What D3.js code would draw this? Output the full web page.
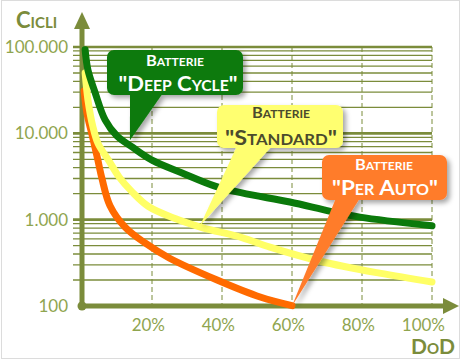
<!DOCTYPE html>
<html><head><meta charset="utf-8">
<script src="https://cdn.jsdelivr.net/npm/d3@7"></script>
<style>body{margin:0;background:#fff}svg{display:block}</style>
</head><body>
<script>
// ---- data ----
const xTicks = [20, 40, 60, 80, 100];
const xTickLabels = ["20%", "40%", "60%", "80%", "100%"];
const yTicks = [100, 1000, 10000, 100000];
const yTickLabels = ["100", "1.000", "10.000", "100.000"];
const deepDod    = [0.9, 1.7, 3.7, 6.6, 10, 14.3, 20, 28.6, 38, 45.7, 59.4, 71, 79.4, 100];
const deepCycles = [93000, 54000, 30000, 14300, 9300, 6960, 4900, 3480, 2450, 2040, 1600, 1250, 1070, 850];
const stdDod     = [0.9, 1.7, 3.1, 4.6, 7.7, 10.6, 14.3, 19, 26.6, 34.3, 45.7, 53.7, 68, 85, 100];
const stdCycles  = [50000, 24400, 12000, 7600, 4800, 3120, 2100, 1420, 1030, 810, 620, 480, 330, 240, 190];
const autoDod    = [0.6, 1.4, 2.9, 4.4, 5.7, 8, 12.3, 18, 24.9, 38.6, 50.9, 60];
const autoCycles = [31000, 17300, 9500, 5200, 3000, 1450, 820, 537, 360, 200, 127, 101];
const seriesNames = ["Batterie", "Batterie", "Batterie"];
const seriesTitles = ['"Deep Cycle"', '"Standard"', '"Per Auto"'];

const W = 461, H = 359;
const olive = "#7b8c3b", tickCol = "#8fa54f";
const x = d3.scaleLinear().domain([0, 100]).range([82, 432]);
const y = d3.scaleLog().domain([100, 100000]).range([306, 47]);

const svg = d3.select("body").append("svg").attr("width", W).attr("height", H);
const defs = svg.append("defs");
const f = defs.append("filter").attr("id", "sh").attr("x", "-20%").attr("y", "-20%").attr("width", "150%").attr("height", "150%");
f.append("feDropShadow").attr("dx", 3).attr("dy", 3).attr("stdDeviation", 2.5).attr("flood-color", "#000").attr("flood-opacity", 0.35);

svg.append("rect").attr("x", 1.5).attr("y", 0.5).attr("width", W - 3).attr("height", H - 1)
  .attr("fill", "none").attr("stroke", "#dcdcdc");

// horizontal log grid
const minor = [];
for (let d = 100; d < 100000; d *= 10) for (let k = 2; k <= 9; k++) minor.push(d * k);
svg.append("g").selectAll("line").data(minor).join("line")
  .attr("x1", 73).attr("x2", x(100)).attr("y1", d => y(d)).attr("y2", d => y(d))
  .attr("stroke", olive).attr("stroke-width", 1.3);
svg.append("g").selectAll("line").data(yTicks.slice(1)).join("line")
  .attr("x1", 73).attr("x2", x(100)).attr("y1", d => y(d)).attr("y2", d => y(d))
  .attr("stroke", olive).attr("stroke-width", 2.6);
// vertical dashed grid
svg.append("g").selectAll("line").data(xTicks).join("line")
  .attr("x1", d => x(d)).attr("x2", d => x(d)).attr("y1", y(100000)).attr("y2", y(100))
  .attr("stroke", olive).attr("stroke-width", 1).attr("stroke-dasharray", "5,3");

// axes
svg.append("line").attr("x1", x(0)).attr("x2", 443).attr("y1", y(100)).attr("y2", y(100))
  .attr("stroke", olive).attr("stroke-width", 5);
svg.append("path").attr("d", `M443,${y(100)-8}L459,${y(100)}L443,${y(100)+8}Z`).attr("fill", olive);
svg.append("line").attr("x1", x(0)).attr("x2", x(0)).attr("y1", y(100)).attr("y2", 27)
  .attr("stroke", olive).attr("stroke-width", 5);
svg.append("path").attr("d", `M${x(0)-8},29L${x(0)},12L${x(0)+8},29Z`).attr("fill", olive);
svg.append("circle").attr("cx", x(0)).attr("cy", y(100)).attr("r", 4.5).attr("fill", olive);

// tick labels
svg.append("g").selectAll("text").data(yTicks).join("text")
  .attr("x", 68).attr("y", d => y(d) + 6).attr("text-anchor", "end")
  .attr("font-family", "Lato, sans-serif").attr("font-size", 17).attr("fill", tickCol)
  .text((d, i) => yTickLabels[i]);
svg.append("g").selectAll("text").data(xTicks).join("text")
  .attr("x", d => x(d) + 13).attr("y", 331).attr("text-anchor", "end")
  .attr("font-family", "Lato, sans-serif").attr("font-size", 17).attr("fill", tickCol)
  .text((d, i) => xTickLabels[i]);
svg.append("text").attr("x", 16).attr("y", 28).attr("font-family", "Lato, sans-serif")
  .attr("font-size", 22).attr("font-weight", "bold").style("font-variant", "small-caps")
  .attr("fill", olive).text("Cicli");
svg.append("text").attr("x", 455).attr("y", 354).attr("text-anchor", "end").attr("font-family", "Lato, sans-serif")
  .attr("font-size", 21).attr("font-weight", "bold").style("font-variant", "small-caps")
  .attr("fill", olive).text("DoD");

// curves
const line = d3.line().x(d => x(d[0])).y(d => y(d[1])).curve(d3.curveCatmullRom.alpha(0.5));
const series = [
  {dod: autoDod, c: autoCycles, col: "#ff6a00"},
  {dod: stdDod, c: stdCycles, col: "#ffff66"},
  {dod: deepDod, c: deepCycles, col: "#0b7a0b"}
];
series.forEach(s => {
  svg.append("path").datum(s.dod.map((d, i) => [d, s.c[i]])).attr("d", line)
    .attr("fill", "none").attr("stroke", s.col).attr("stroke-width", 7).attr("stroke-linecap", "round");
});

// callouts
const callouts = [
  {i: 0, box: [107, 50, 243, 95], base: [130, 163], tip: [13.7, 8300], fill: "#0a7a0a", txt: "#ffffff", l1: [175, 66, 58], l2: [178, 91, 119, 21]},
  {i: 1, box: [217, 105, 343, 148], base: [237, 272], tip: [33.7, 850], fill: "#ffff70", txt: "#4b4b2d", l1: [281, 118, 58], l2: [281, 145, 112, 21]},
  {i: 2, box: [322, 155, 447, 200], base: [336, 360], tip: [60, 100], fill: "#ff7b2c", txt: "#ffffff", l1: [384, 170, 58], l2: [385, 195, 106, 21]}
];
callouts.forEach(c => {
  const g = svg.append("g").attr("filter", "url(#sh)");
  const [x0, y0, x1, y1] = c.box;
  g.append("rect").attr("x", x0).attr("y", y0).attr("width", x1 - x0).attr("height", y1 - y0)
    .attr("rx", 7).attr("fill", c.fill);
  g.append("path").attr("d", `M${c.base[0]},${y1 - 2}L${x(c.tip[0])},${y(c.tip[1])}L${c.base[1]},${y1 - 2}Z`)
    .attr("fill", c.fill);
  const t = svg.append("g").attr("font-family", "Lato, sans-serif").attr("font-weight", "bold")
    .style("font-variant", "small-caps").attr("fill", c.txt).attr("text-anchor", "middle");
  t.append("text").attr("x", c.l1[0]).attr("y", c.l1[1]).attr("font-size", 15)
    .attr("textLength", c.l1[2]).attr("lengthAdjust", "spacingAndGlyphs").text(seriesNames[c.i]);
  t.append("text").attr("x", c.l2[0]).attr("y", c.l2[1]).attr("font-size", c.l2[3])
    .attr("textLength", c.l2[2]).attr("lengthAdjust", "spacingAndGlyphs").text(seriesTitles[c.i]);
});
</script>
</body></html>
